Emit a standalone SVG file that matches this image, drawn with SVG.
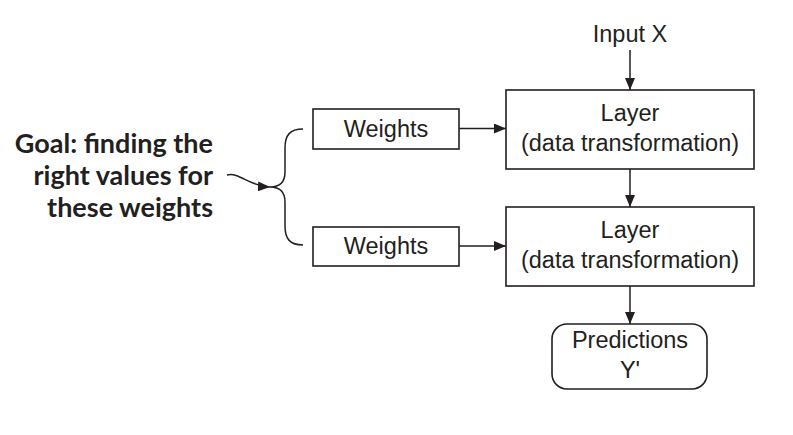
<svg xmlns="http://www.w3.org/2000/svg" width="793" height="435" viewBox="0 0 793 435">
<defs>
<style>
.box{fill:#fff;stroke:#231f20;stroke-width:1.6}
.t{font-family:"Liberation Sans",Arial,sans-serif;font-size:23.5px;fill:#231f20;text-anchor:middle}
.g{font-family:Lato,"Open Sans",sans-serif;font-weight:bold;font-size:27px;fill:#231f20;text-anchor:end}
.c{fill:none;stroke:#231f20;stroke-width:1.5}
</style>
<marker id="ah" viewBox="0 0 12 10" refX="12" refY="5" markerWidth="12" markerHeight="10" markerUnits="userSpaceOnUse" orient="auto">
<path d="M0,0 L12,5 L0,10 Z" fill="#231f20"/>
</marker>
</defs>
<rect width="793" height="435" fill="#fff"/>
<g id="goal">
<text class="g" x="213" y="153">Goal: finding the</text>
<text class="g" x="213" y="185">right values for</text>
<text class="g" x="213" y="217">these weights</text>
</g>
<g id="input">
<text class="t" x="630" y="42">Input X</text>
</g>
<g id="layer1">
<rect class="box" x="506" y="90" width="248" height="79"/>
<text class="t" x="630" y="121">Layer</text>
<text class="t" x="630" y="151">(data transformation)</text>
</g>
<g id="weights1">
<rect class="box" x="313" y="109" width="146" height="40"/>
<text class="t" x="386" y="137">Weights</text>
</g>
<g id="layer2">
<rect class="box" x="506" y="207" width="248" height="79"/>
<text class="t" x="630" y="238">Layer</text>
<text class="t" x="630" y="268">(data transformation)</text>
</g>
<g id="weights2">
<rect class="box" x="313" y="227" width="146" height="39"/>
<text class="t" x="386" y="254">Weights</text>
</g>
<g id="predictions">
<rect class="box" x="552" y="324" width="155" height="65" rx="15" ry="15"/>
<text class="t" x="630" y="348">Predictions</text>
<text class="t" x="630" y="378">Y'</text>
</g>
<g id="connectors">
<path class="c" d="M630,50 L630,90" marker-end="url(#ah)"/>
<path class="c" d="M630,169 L630,207" marker-end="url(#ah)"/>
<path class="c" d="M630,286 L630,324" marker-end="url(#ah)"/>
<path class="c" d="M459,128.5 L506,128.5" marker-end="url(#ah)"/>
<path class="c" d="M459,246 L506,246" marker-end="url(#ah)"/>
<path class="c" d="M303,129 C290,129 285,135 285,148 L285,172 C285,182 280,187 270,187 C280,187 285,192 285,202 L285,226 C285,239 290,245 303,245" stroke-width="1.2"/>
<path class="c" d="M227,175 C240,172 248,186 270,187" stroke-width="1.2" marker-end="url(#ah)"/>
</g>
</svg>
